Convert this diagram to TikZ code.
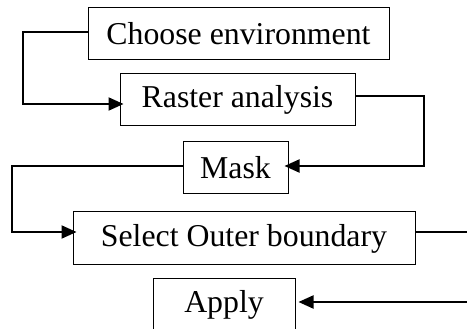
\documentclass[tikz,border=0pt]{standalone}
\usepackage{fontspec}
\setmainfont{Liberation Serif}
\usetikzlibrary{arrows.meta}

\begin{document}
\begin{tikzpicture}[x=1pt,y=-1pt,
  box/.style={draw,line width=1pt,inner sep=0pt,font=\fontsize{31.8}{36}\selectfont},
  link/.style={line width=2pt,shorten >=-4pt,-{Triangle[length=15pt,width=13pt]}}]
\useasboundingbox (0,0) rectangle (467,329);
\clip (0,0) rectangle (467,329);
\node[box,minimum width=301pt,minimum height=52pt] (choose) at (238.5,34) {Choose environment};
\node[box,minimum width=235pt,minimum height=52pt] (raster) at (237.5,100) {Raster analysis};
\node[box,minimum width=105pt,minimum height=52pt] (mask) at (235.5,168) {Mask};
\node[box,minimum width=342pt,minimum height=53pt] (select) at (244,238.5) {Select Outer boundary};
\node[box,minimum width=142pt,minimum height=52pt] (apply) at (224,305) {Apply};
\draw[link] ([yshift=2pt]choose.west) -- ++(-65,0) |- ([yshift=-4pt]raster.west);
\draw[link] ([yshift=4pt]raster.east) -- ++(68,0) |- ([yshift=2pt]mask.east);
\draw[link] ([yshift=2pt]mask.west) -- ++(-171,0) |- ([yshift=6.5pt]select.west);
\draw[link] ([yshift=6.5pt]select.east) -- ++(65,0) |- ([yshift=3pt,xshift=7pt]apply.east);
\end{tikzpicture}
\end{document}
